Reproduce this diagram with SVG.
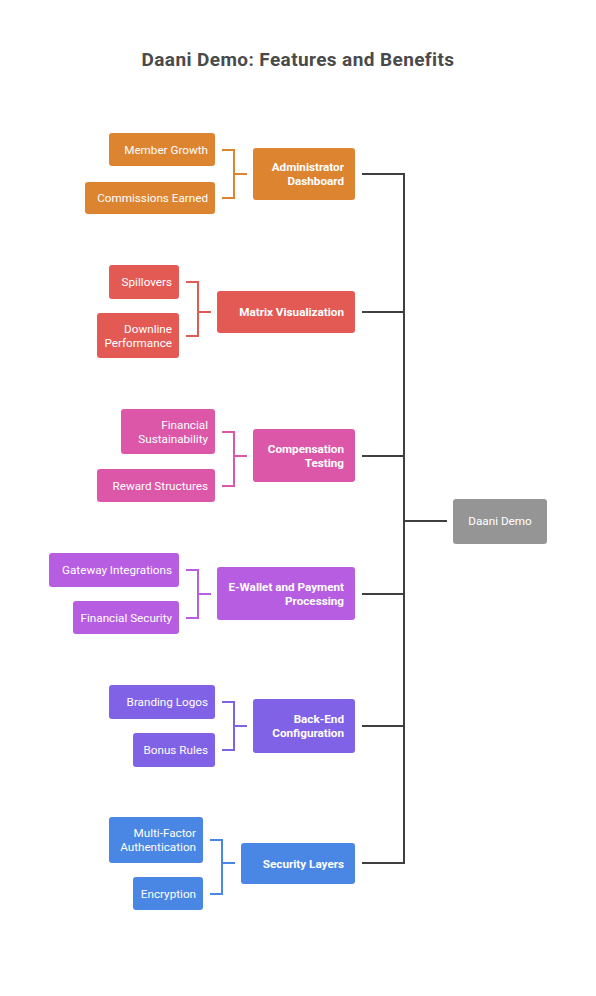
<svg xmlns="http://www.w3.org/2000/svg" width="596" height="996" viewBox="0 0 596 996">
<style>
text{font-family:Roboto,"Liberation Sans",sans-serif;fill:#fff;font-size:11.7px}
.t{font-size:19px;font-weight:bold;fill:#4a4a4a;letter-spacing:0.4px}
.p{font-weight:bold}
.c{text-anchor:end}
.m{text-anchor:middle}
.ln{fill:none;stroke-width:2}
.trunk{stroke:#3f3f3f}
.o{fill:#DD8431}.os{stroke:#DD8431}
.r{fill:#E35A55}.rs{stroke:#E35A55}
.k{fill:#DC57A8}.ks{stroke:#DC57A8}
.u{fill:#B65DE2}.us{stroke:#B65DE2}
.v{fill:#7F62E6}.vs{stroke:#7F62E6}
.b{fill:#4A86E3}.bs{stroke:#4A86E3}
</style>
<rect width="596" height="996" fill="#fff"/>
<text class="t m" x="298" y="66">Daani Demo: Features and Benefits</text>
<g id="connectors">
<path class="ln trunk" d="M362 174H404V863H362M362 312H404M362 456H404M362 594H404M362 726H404M404 521H447"/>
<path class="ln os" d="M222 150H234V198H222M234 174H247"/>
<path class="ln rs" d="M186 282H198V336H186M198 312H211"/>
<path class="ln ks" d="M222 432H234V486H222M234 456H247"/>
<path class="ln us" d="M186 570H198V618H186M198 594H211"/>
<path class="ln vs" d="M222 702H234V750H222M234 726H247"/>
<path class="ln bs" d="M210 840H222V894H210M222 863H235"/>
</g>
<g id="daani-demo"><rect x="453" y="499" width="94" height="45" rx="3" fill="#959595"/><text class="m" x="500" y="525">Daani Demo</text></g>
<g id="administrator-dashboard"><rect class="o" x="253" y="148" width="102" height="52" rx="3"/><text class="p c" x="344" y="171">Administrator</text><text class="p c" x="344" y="185">Dashboard</text></g>
<g id="member-growth"><rect class="o" x="109" y="133" width="106" height="33" rx="3"/><text class="c" x="208" y="154">Member Growth</text></g>
<g id="commissions-earned"><rect class="o" x="85" y="182" width="130" height="32" rx="3"/><text class="c" x="208" y="202">Commissions Earned</text></g>
<g id="matrix-visualization"><rect class="r" x="217" y="291" width="138" height="42" rx="3"/><text class="p c" x="344" y="316">Matrix Visualization</text></g>
<g id="spillovers"><rect class="r" x="109" y="265" width="70" height="34" rx="3"/><text class="c" x="172" y="286">Spillovers</text></g>
<g id="downline-performance"><rect class="r" x="97" y="313" width="82" height="45" rx="3"/><text class="c" x="172" y="333">Downline</text><text class="c" x="172" y="347">Performance</text></g>
<g id="compensation-testing"><rect class="k" x="253" y="429" width="102" height="53" rx="3"/><text class="p c" x="344" y="453">Compensation</text><text class="p c" x="344" y="467">Testing</text></g>
<g id="financial-sustainability"><rect class="k" x="121" y="409" width="94" height="45" rx="3"/><text class="c" x="208" y="429">Financial</text><text class="c" x="208" y="443">Sustainability</text></g>
<g id="reward-structures"><rect class="k" x="97" y="469" width="118" height="33" rx="3"/><text class="c" x="208" y="490">Reward Structures</text></g>
<g id="e-wallet"><rect class="u" x="217" y="567" width="138" height="53" rx="3"/><text class="p c" x="344" y="591">E-Wallet and Payment</text><text class="p c" x="344" y="605">Processing</text></g>
<g id="gateway-integrations"><rect class="u" x="49" y="553" width="130" height="34" rx="3"/><text class="c" x="172" y="574">Gateway Integrations</text></g>
<g id="financial-security"><rect class="u" x="73" y="601" width="106" height="33" rx="3"/><text class="c" x="172" y="622">Financial Security</text></g>
<g id="back-end-configuration"><rect class="v" x="253" y="699" width="102" height="54" rx="3"/><text class="p c" x="344" y="723">Back-End</text><text class="p c" x="344" y="737">Configuration</text></g>
<g id="branding-logos"><rect class="v" x="109" y="685" width="106" height="34" rx="3"/><text class="c" x="208" y="706">Branding Logos</text></g>
<g id="bonus-rules"><rect class="v" x="133" y="733" width="82" height="34" rx="3"/><text class="c" x="208" y="754">Bonus Rules</text></g>
<g id="security-layers"><rect class="b" x="241" y="843" width="114" height="41" rx="3"/><text class="p c" x="344" y="868">Security Layers</text></g>
<g id="multi-factor-authentication"><rect class="b" x="109" y="817" width="94" height="46" rx="3"/><text class="c" x="196" y="837">Multi-Factor</text><text class="c" x="196" y="851">Authentication</text></g>
<g id="encryption"><rect class="b" x="133" y="877" width="70" height="33" rx="3"/><text class="c" x="196" y="898">Encryption</text></g>
</svg>
